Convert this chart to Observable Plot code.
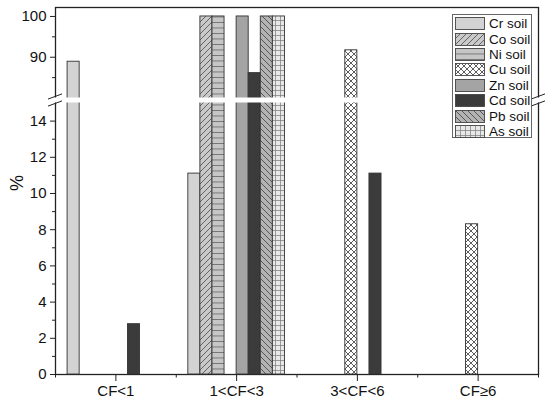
<!DOCTYPE html>
<html>
<head>
<meta charset="utf-8">
<script src="https://cdn.jsdelivr.net/npm/d3@7"></script>
<script src="https://cdn.jsdelivr.net/npm/@observablehq/plot@0.6"></script>
<style>
  html, body { margin: 0; padding: 0; background: #fff; }
  #wrap { position: relative; width: 550px; height: 406px; font-family: "Liberation Sans", Arial, sans-serif; }
  #legend { position: absolute; left: 452px; top: 14px; width: 80px; height: 124px; box-sizing: border-box;
            border: 1px solid #666; background: #fff; padding-top: 1px; }
  .row { display: flex; align-items: center; height: 15.4px; }
  .row svg { margin-left: 2px; margin-right: 4px; display: block; }
  .row span { font-size: 13.5px; color: #111; line-height: 13px; }
</style>
</head>
<body>
<svg width="0" height="0" style="position:absolute">
  <defs>
    <pattern id="pCo" patternUnits="userSpaceOnUse" width="6" height="6">
      <rect width="6" height="6" fill="#c9c9c9"/>
      <path d="M-1,7 L7,-1 M-1,1 L1,-1 M5,7 L7,5" stroke="#4a4a4a" stroke-width="0.8"/>
    </pattern>
    <pattern id="pNi" patternUnits="userSpaceOnUse" width="6" height="5.5">
      <rect width="6" height="5.5" fill="#c6c6c6"/>
      <path d="M0,0.4 H6" stroke="#5a5a5a" stroke-width="0.8"/>
    </pattern>
    <pattern id="pCu" patternUnits="userSpaceOnUse" width="6" height="6">
      <rect width="6" height="6" fill="#ffffff"/>
      <path d="M0,0 L6,6 M6,0 L0,6" stroke="#333" stroke-width="0.8"/>
    </pattern>
    <pattern id="pPb" patternUnits="userSpaceOnUse" width="6" height="6">
      <rect width="6" height="6" fill="#b3b3b3"/>
      <path d="M-1,-1 L7,7 M5,-1 L7,1 M-1,5 L1,7" stroke="#404040" stroke-width="0.8"/>
    </pattern>
    <pattern id="pAs" patternUnits="userSpaceOnUse" width="5" height="5">
      <rect width="5" height="5" fill="#e8e8e8"/>
      <path d="M0,0.4 H5 M0.4,0 V5" stroke="#7a7a7a" stroke-width="0.8"/>
    </pattern>
  </defs>
</svg>
<div id="wrap"><div id="chart"></div><div id="legend"></div></div>
<script>
// ---- data ----
const categories = ["CF<1", "1<CF<3", "3<CF<6", "CF≥6"];
const series = ["Cr soil", "Co soil", "Ni soil", "Cu soil", "Zn soil", "Cd soil", "Pb soil", "As soil"];
const crSoil = [88.9, 11.1, 0, 0];
const coSoil = [0, 100, 0, 0];
const niSoil = [0, 100, 0, 0];
const cuSoil = [0, 0, 91.7, 8.3];
const znSoil = [0, 100, 0, 0];
const cdSoil = [2.78, 86.1, 11.1, 0];
const pbSoil = [0, 100, 0, 0];
const asSoil = [0, 100, 0, 0];
const yTicksMajor = [0, 2, 4, 6, 8, 10, 12, 14, 90, 100];
const yTicksMinor = [1, 3, 5, 7, 9, 11, 13, 85, 95];
const yBreak = [15, 80];
const yTop = 102.2;
const xMinorTicks = [0.5, 1.5, 2.5, 3.5, 4.5];

// ---- styles ----
const fills = ["#d3d3d3", "url(#pCo)", "url(#pNi)", "url(#pCu)", "#a4a4a4", "#3b3b3b", "url(#pPb)", "url(#pAs)"];
const seriesValues = [crSoil, coSoil, niSoil, cuSoil, znSoil, cdSoil, pbSoil, asSoil];

const rows = [];
seriesValues.forEach((vals, si) => vals.forEach((v, ci) => {
  if (v > 0) rows.push({cat: ci + 1, si, value: v});
}));

const groupWidth = 0.8, nS = series.length, bw = groupWidth / nS;

function breakMarks(index, scales) {
  const {x, y} = scales;
  const g = d3.create("svg:g").attr("stroke", "#222").attr("stroke-width", 1).attr("fill", "none");
  const y0 = y(yBreak[0]), y1 = y(yBreak[1]);
  for (const xv of [xMinorTicks[0], xMinorTicks[xMinorTicks.length - 1]]) {
    const cx = x(xv);
    for (const yy of [y0 + 1, y1 - 1]) {
      g.append("line").attr("x1", cx - 7).attr("y1", yy + 2.6).attr("x2", cx + 7).attr("y2", yy - 2.6);
    }
  }
  return g.node();
}

const marks = [
  Plot.frame({stroke: "#222", strokeWidth: 1.3}),
  ...series.map((s, si) => Plot.rectY(rows.filter(r => r.si === si), {
    x1: r => r.cat - groupWidth / 2 + bw * r.si,
    x2: r => r.cat - groupWidth / 2 + bw * (r.si + 1),
    y1: 0, y2: "value",
    fill: fills[si], stroke: "#333", strokeWidth: 0.9
  })),
  Plot.rect([0], {x1: xMinorTicks[0], x2: xMinorTicks[xMinorTicks.length - 1], y1: yBreak[0], y2: yBreak[1],
    fill: "white", insetLeft: -3, insetRight: -3}),
  breakMarks,
  Plot.axisY(yTicksMajor, {tickSize: 5, tickPadding: 4, fontSize: 15, label: null, stroke: "#222"}),
  Plot.axisY(yTicksMinor, {tickSize: 3, tickFormat: () => "", label: null, stroke: "#222"}),
  Plot.axisX([1, 2, 3, 4], {tickSize: 7, tickPadding: 4, fontSize: 15, tickFormat: d => categories[d - 1], label: null, stroke: "#222"}),
  Plot.axisX(xMinorTicks, {tickSize: 3.5, tickFormat: () => "", label: null, stroke: "#222"}),
  Plot.text(["%"], {frameAnchor: "left", rotate: -90, dx: -38, fontSize: 18, fill: "#111"})
];

const chart = Plot.plot({
  width: 550,
  height: 406,
  marginLeft: 55,
  marginRight: 12,
  marginTop: 7,
  marginBottom: 32,
  style: {fontFamily: "Liberation Sans, Arial, sans-serif", color: "#111", background: "#fff", overflow: "visible"},
  x: {type: "linear", domain: [0.5, 4.5]},
  y: {type: "linear", domain: [0, yBreak[0], yBreak[1], yTop], range: [374, 102.5, 97.5, 7]},
  marks
});
document.getElementById("chart").appendChild(chart);

// ---- legend ----
const legend = d3.select("#legend");
series.forEach((s, si) => {
  const row = legend.append("div").attr("class", "row");
  const sw = row.append("svg").attr("width", 30).attr("height", 13);
  sw.append("rect").attr("x", 0.5).attr("y", 0.5).attr("width", 29).attr("height", 12)
    .attr("fill", fills[si]).attr("stroke", "#444").attr("stroke-width", 0.9);
  row.append("span").text(s);
});
</script>
</body>
</html>
